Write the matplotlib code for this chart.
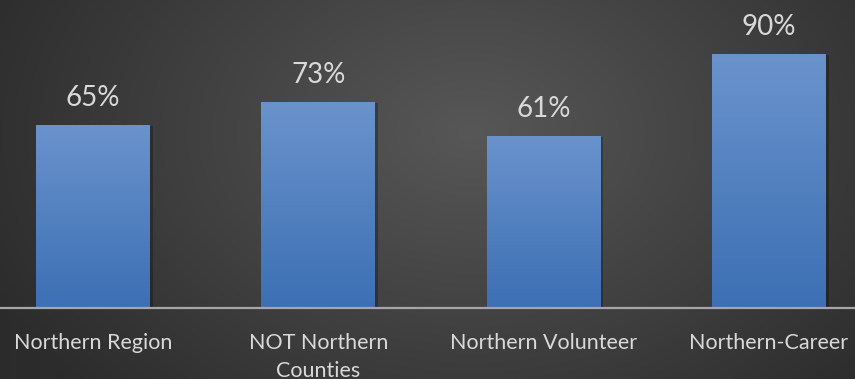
import numpy as np
import matplotlib
matplotlib.use("Agg")
import matplotlib.pyplot as plt
from matplotlib.colors import LinearSegmentedColormap

categories = ["Northern Region", "NOT Northern\nCounties", "Northern Volunteer", "Northern-Career"]
values = [65, 73, 61, 90]
value_labels = ["65%", "73%", "61%", "90%"]

W, H, DPI = 855, 379, 100
FONT = "Lato"
TEXT_COLOR = "#d9d9d9"

fig = plt.figure(figsize=(W / DPI, H / DPI), dpi=DPI)

# dark radial background
bg = fig.add_axes([0, 0, 1, 1])
bg.set_axis_off()
yy, xx = np.mgrid[0:H, 0:W]
cx, cy = W * 0.55, H * 0.35
r = np.sqrt(((xx - cx) / (W * 0.62)) ** 2 + ((yy - cy) / (H * 1.0)) ** 2)
r = np.clip(r, 0, 1)
bg_cmap = LinearSegmentedColormap.from_list("bg", ["#575757", "#2c2c2c"])
bg.imshow(r, cmap=bg_cmap, vmin=0, vmax=1, aspect="auto", extent=[0, 1, 0, 1], origin="upper")
bg.set_xlim(0, 1)
bg.set_ylim(0, 1)

# plot area
ax = fig.add_axes([0, 71 / H, 1, 282 / H])
ax.set_axis_off()
x = np.arange(len(values))

bar_cmap = LinearSegmentedColormap.from_list("bar", ["#3c6fb4", "#6a93cc"])
grad = np.linspace(0, 1, 256).reshape(-1, 1)

bars = ax.bar(x, values, width=0.505, color="none", edgecolor="none", zorder=2)
for b in bars:
    x0, y0 = b.get_x(), b.get_y()
    w, h = b.get_width(), b.get_height()
    # soft drop shadow on the right/bottom
    ax.bar(x0 + w / 2 + 0.012, h, width=w, bottom=y0 - 0.4, color="black", alpha=0.25, zorder=1)
    im = ax.imshow(grad, cmap=bar_cmap, extent=[x0, x0 + w, y0, y0 + h],
                   origin="lower", aspect="auto", zorder=2)
    im.set_clip_path(b)

ax.set_xlim(-0.4127, 3.382)
ax.set_ylim(0, 100)

# baseline
ax.axhline(0, color="#a6a6a6", lw=1.6, zorder=3, clip_on=False)

# value labels
for xi, v, lab in zip(x, values, value_labels):
    ax.annotate(lab, (xi, v), xytext=(0, 13.7), textcoords="offset points",
                ha="center", va="baseline", fontsize=20, color=TEXT_COLOR,
                family=FONT, zorder=4)

# category labels
for xi, cat in zip(x, categories):
    ax.annotate(cat, (xi, 0), xytext=(0, -18), textcoords="offset points",
                ha="center", va="top", fontsize=15.5, color=TEXT_COLOR,
                family=FONT, linespacing=1.5,
                annotation_clip=False, zorder=4)

fig.savefig("out.png", dpi=DPI)
